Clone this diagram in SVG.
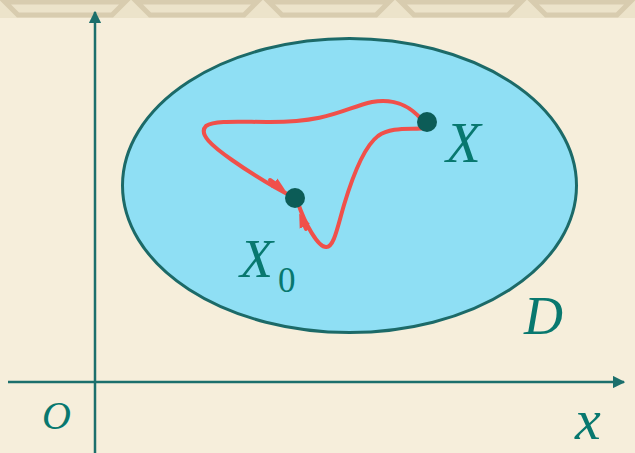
<svg xmlns="http://www.w3.org/2000/svg" width="635" height="453" viewBox="0 0 635 453">
<defs>
<style>
.lbl{font-family:"Liberation Serif","Times New Roman",serif;fill:#08786f;font-style:italic}
.sub{font-family:"Liberation Serif","Times New Roman",serif;fill:#08786f}
.axis{stroke:#1c6f6c;stroke-width:2.5;fill:none}
.curve{stroke:#f0504a;stroke-width:4;fill:none;stroke-linecap:round;stroke-linejoin:round}
.dot{fill:#0c5c57}
.band{fill:none;stroke:#d8ccaf;stroke-width:5}
</style>
<marker id="ah" viewBox="0 0 10 10" refX="9" refY="5" markerWidth="5" markerHeight="5" orient="auto">
<path d="M0,0 L10,5 L0,10 z" fill="#1c6f6c"/>
</marker>
<marker id="rh" viewBox="0 0 10 10" refX="5" refY="5" markerWidth="3.5" markerHeight="3.5" orient="auto">
<path d="M0,1 L10,5 L0,9 z" fill="#f0504a"/>
</marker>
</defs>
<rect width="635" height="453" fill="#f6eedb"/>
<g id="band">
<rect x="0" y="0" width="635" height="18" fill="#ece3ca"/>
<path class="band" d="M5,2 L125,2 L112,15 L18,15 Z"/>
<path class="band" d="M137,2 L257,2 L244,15 L150,15 Z"/>
<path class="band" d="M269,2 L389,2 L376,15 L282,15 Z"/>
<path class="band" d="M401,2 L521,2 L508,15 L414,15 Z"/>
<path class="band" d="M533,2 L630,2 L617,15 L546,15 Z"/>
</g>
<g id="region-D">
<ellipse cx="349.5" cy="185.5" rx="227" ry="147" fill="#8fdff4" stroke="#1c6a68" stroke-width="3"/>
</g>
<g id="connectors">
<line class="axis" x1="8" y1="382" x2="624" y2="382" marker-end="url(#ah)"/>
<line class="axis" x1="95" y1="453" x2="95" y2="12" marker-end="url(#ah)"/>
<path class="curve" d="M422,120 C410,106 395,98 372,102 C345,108 330,122 270,122 C240,122 215,120 206,126 C198,134 212,146 232,160 C252,174 275,188 293,197"/>
<path class="curve" d="M270,180 L280,187" marker-end="url(#rh)"/>
<path class="curve" d="M427,128 C412,130 392,126 378,136 C362,148 350,185 344,205 C338,225 334,248 326,247 C318,247 305,224 298,203"/>
<path class="curve" d="M306,229 L302,220" marker-end="url(#rh)"/>
</g>
<g id="node-X">
<circle class="dot" cx="427" cy="122" r="10"/>
<text class="lbl" x="446" y="162" font-size="57">X</text>
</g>
<g id="node-X0">
<circle class="dot" cx="295" cy="198" r="10"/>
<text class="lbl" x="240" y="277" font-size="54">X</text>
<text class="sub" x="278" y="292" font-size="35">0</text>
</g>
<g id="label-D"><text class="lbl" x="524" y="334" font-size="54">D</text></g>
<g id="label-O"><text class="lbl" x="42" y="429" font-size="40">O</text></g>
<g id="label-x"><text class="lbl" x="575" y="439" font-size="58">x</text></g>
</svg>
